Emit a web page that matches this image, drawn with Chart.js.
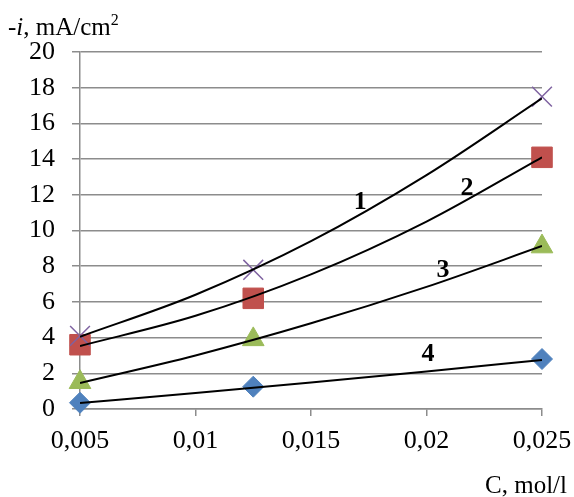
<!DOCTYPE html>
<html>
<head>
<meta charset="utf-8">
<script src="https://cdn.jsdelivr.net/npm/chart.js@4"></script>
<style>
  html, body { margin: 0; padding: 0; background: #fff; }
  #wrap { width: 574px; height: 497px; }
</style>
</head>
<body>
<div id="wrap"><canvas id="chart" width="574" height="497"></canvas></div>
<script>
// measured points
const concentrations = [0.005, 0.0125, 0.025];
const series1 = [4.1, 7.8, 17.5];
const series2 = [3.6, 6.2, 14.1];
const series3 = [1.5, 3.9, 9.1];
const series4 = [0.35, 1.25, 2.8];

// trend curves
const trendX = [0.005, 0.01, 0.015, 0.02, 0.025];
const trend1 = [4.05, 6.4, 9.4, 13.1, 17.4];
const trend2 = [3.53, 5.22, 7.54, 10.5, 14.1];
const trend3 = [1.46, 3.0, 4.8, 6.84, 9.13];
const trend4 = [0.34, 0.89, 1.48, 2.1, 2.75];

const xTicks = [0.005, 0.01, 0.015, 0.02, 0.025];
const xTickLabels = ['0,005', '0,01', '0,015', '0,02', '0,025'];

const curveNames = ['1', '2', '3', '4'];
const curveNameX = [0.01713, 0.02175, 0.02071, 0.02006];
const curveNameY = [11.6, 12.38, 7.79, 3.08];

const FONT = '"Liberation Serif", "Times New Roman", serif';

function pts(xs, ys) {
    return xs.map((x, i) => ({ x: x, y: ys[i] }));
}

function trendSet(ys) {
    return {
        data: pts(trendX, ys),
        showLine: true,
        borderColor: '#000',
        borderWidth: 2,
        pointRadius: 0,
        cubicInterpolationMode: 'monotone',
        order: 1,
    };
}

function markerSet(ys, style, color, radius) {
    return {
        data: pts(concentrations, ys),
        showLine: false,
        clip: false,
        pointStyle: style,
        pointRadius: radius,
        pointBackgroundColor: color,
        pointBorderColor: color,
        pointBorderWidth: style === 'crossRot' ? 1.5 : 1,
        order: 2,
    };
}

const textPlugin = {
    id: 'texts',
    afterDraw(chart) {
        const { ctx, scales } = chart;
        ctx.save();
        ctx.fillStyle = '#000';
        ctx.textBaseline = 'alphabetic';
        ctx.textAlign = 'left';

        // y title: -i, mA/cm2
        let x = 8;
        const yb = 35;
        ctx.font = '25px ' + FONT;
        ctx.fillText('-', x, yb);
        x += ctx.measureText('-').width;
        ctx.font = 'italic 25px ' + FONT;
        ctx.fillText('i', x, yb);
        x += ctx.measureText('i').width;
        ctx.font = '25px ' + FONT;
        ctx.fillText(', mA/cm', x, yb);
        x += ctx.measureText(', mA/cm').width;
        ctx.font = '16px ' + FONT;
        ctx.fillText('2', x, yb - 10);

        // x title
        ctx.font = '25px ' + FONT;
        ctx.textAlign = 'right';
        ctx.fillText('C, mol/l', 567, 493);

        // curve numbers
        ctx.font = 'bold 26px ' + FONT;
        ctx.textAlign = 'center';
        ctx.textBaseline = 'middle';
        curveNames.forEach((n, i) => {
            ctx.fillText(n, scales.x.getPixelForValue(curveNameX[i]), scales.y.getPixelForValue(curveNameY[i]));
        });
        ctx.restore();
    },
};

new Chart(document.getElementById('chart'), {
    type: 'scatter',
    plugins: [textPlugin],
    data: {
        datasets: [
            trendSet(trend1),
            trendSet(trend2),
            trendSet(trend3),
            trendSet(trend4),
            markerSet(series1, 'crossRot', '#7F63A1', 14),
            markerSet(series2, 'rect', '#C0504D', 14.5),
            markerSet(series3, 'triangle', '#9BBB59', 12.5),
            markerSet(series4, 'rectRot', '#4F81BD', 10.5),
        ],
    },
    options: {
        responsive: false,
        animation: false,
        layout: { padding: { left: 0, right: 32, top: 52, bottom: 0 } },
        plugins: { legend: { display: false }, tooltip: { enabled: false } },
        scales: {
            x: {
                type: 'linear',
                min: 0.005,
                max: 0.025,
                afterBuildTicks: (axis) => { axis.ticks = xTicks.map((v) => ({ value: v })); },
                afterFit: (axis) => {
                    axis.height = 88;
                    axis.paddingLeft = 0;
                    axis.paddingRight = 0;
                },
                ticks: {
                    font: { family: FONT, size: 26 },
                    color: '#000',
                    padding: 10,
                    maxRotation: 0,
                    callback: (v) => xTickLabels[xTicks.indexOf(v)],
                },
                grid: { drawOnChartArea: false, drawTicks: true, tickLength: 7, color: '#8c8c8c', lineWidth: 1.5 },
                border: { color: '#8c8c8c', width: 1.5 },
            },
            y: {
                min: 0,
                max: 20,
                afterFit: (axis) => {
                    axis.width = 80;
                    axis.paddingTop = 0;
                    axis.paddingBottom = 0;
                },
                ticks: {
                    stepSize: 2,
                    font: { family: FONT, size: 26 },
                    color: '#000',
                    padding: 17,
                },
                grid: { color: '#8c8c8c', lineWidth: 1.5, tickLength: 8 },
                border: { color: '#8c8c8c', width: 1.5 },
            },
        },
    },
});
</script>
</body>
</html>
